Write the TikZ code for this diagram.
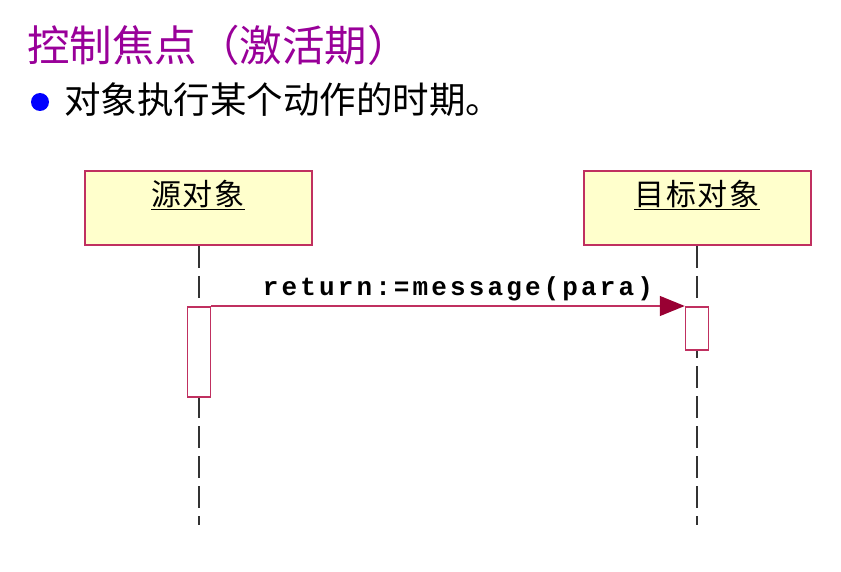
\documentclass[tikz,border=0pt]{standalone}
\usepackage{fontspec}
\setmainfont{Liberation Serif}
\newfontfamily\cjk{Noto Sans CJK SC}
\newfontfamily\cjkspaced[LetterSpace=6]{Noto Sans CJK SC}
\newfontfamily\msgfont[LetterSpace=12]{Liberation Mono}
\usetikzlibrary{arrows.meta,positioning}
\definecolor{titlepurple}{HTML}{990099}
\definecolor{boxyellow}{HTML}{FFFFCC}
\definecolor{boxred}{HTML}{C03060}
\definecolor{tipred}{HTML}{990033}
\begin{document}
\begin{tikzpicture}[x=1pt, y=-1pt]
    % Styles
    \tikzstyle{objbox} = [rectangle, draw=boxred, line width=2pt, fill=boxyellow, minimum width=227pt, minimum height=74pt, inner sep=0pt]
    \tikzstyle{objname} = [font=\cjkspaced\fontsize{30}{34}\selectfont, anchor=north]
    \tikzstyle{actbox} = [rectangle, draw=boxred, line width=1.5pt, fill=white, minimum width=23pt, inner sep=0pt]
    \tikzstyle{lifeline} = [line width=1.4pt, black!80, dash pattern=on 22pt off 8pt]
    \tikzstyle{msg} = [line width=1.4pt, boxred, -{Triangle[length=25pt, width=20pt, color=tipred]}]

    \useasboundingbox (0,0) rectangle (841,572);

    % Heading
    \node[anchor=west, inner sep=0pt, text=titlepurple, font=\cjk\fontsize{42.5}{48}\selectfont] (title) at (27,45) {控制焦点（激活期）};
    \node[circle, fill=blue, minimum size=18pt, inner sep=0pt] (dot) at (40,102) {};
    \node[anchor=west, inner sep=0pt, font=\cjk\fontsize{36.5}{42}\selectfont] (point) at (64,100) {对象执行某个动作的时期。};

    % Nodes
    \node[objbox] (src) at (198,208) {};
    \node[objbox] (tgt) at (697,208) {};
    \node[objname] (srcname) at ([yshift=-7pt]src.north) {\underline{源对象}};
    \node[objname] (tgtname) at ([yshift=-7pt]tgt.north) {\underline{目标对象}};
    \coordinate (srcend) at (199,525);
    \coordinate (tgtend) at (697,525);

    % Lifelines
    \draw[lifeline] (src.south -| srcend) -- (srcend);
    \draw[lifeline] (tgt.south -| tgtend) -- (tgtend);

    % Activations
    \node[actbox, minimum height=90pt, anchor=north] (srcact) at (199,306) {};
    \node[actbox, minimum height=43pt, anchor=north] (tgtact) at (697,306) {};

    % Arrows
    \draw[msg] (srcact.north east) -- node[above=1pt, xshift=10pt, font=\msgfont\bfseries\fontsize{26}{30}\selectfont, text=black] (msglabel) {return:=message(para)} (tgtact.north west);
\end{tikzpicture}
\end{document}
